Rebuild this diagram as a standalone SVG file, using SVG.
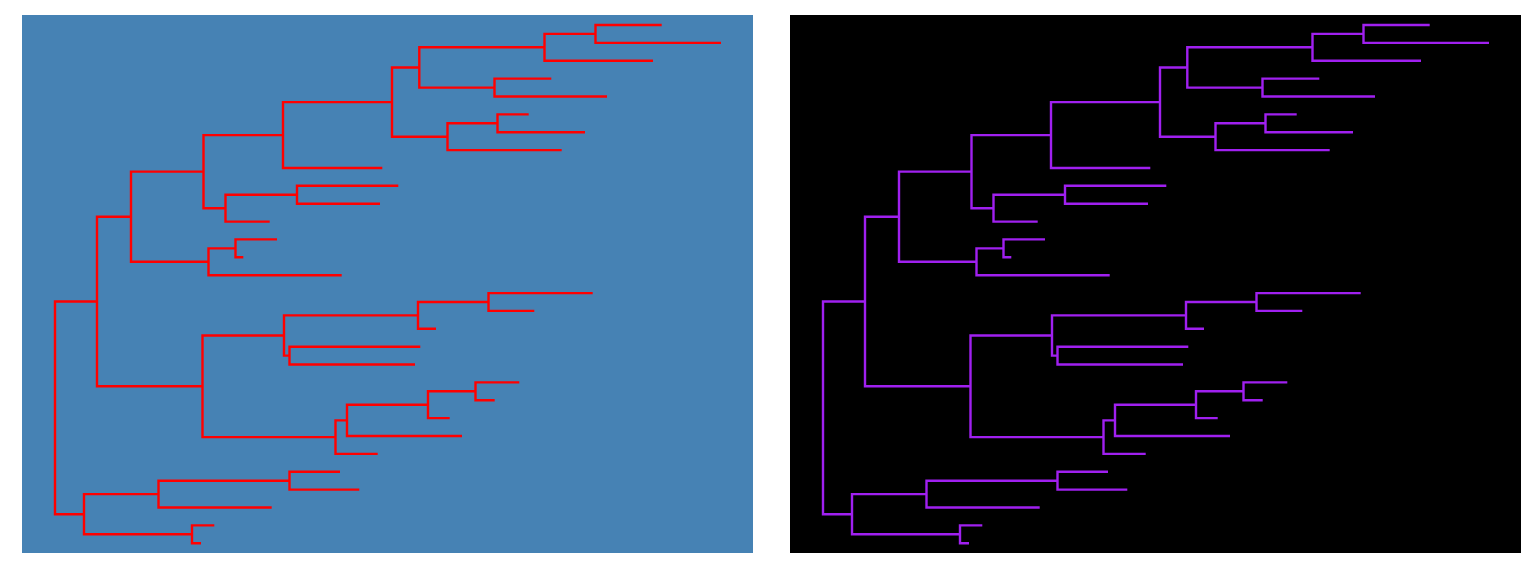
<svg xmlns="http://www.w3.org/2000/svg" xmlns:xlink="http://www.w3.org/1999/xlink" width="1536" height="576" viewBox="0 0 1536 576">
<style>
.tree{fill:none;stroke-width:2.4;stroke-linejoin:miter;stroke-linecap:butt}
.left{stroke:#FF0000}
.right{stroke:#A020F0}
</style>
<defs>
<g id="treeShape" fill="none" stroke-width="2.4">
<path d="M661.7,25 H595.5 V42.9 H721"/>
<path d="M595.5,33.9 H544.5 V60.7 H653"/>
<path d="M551.3,78.6 H494.5 V96.5 H607"/>
<path d="M544.5,47.3 H419.3 V87.6 H494.5"/>
<path d="M528.7,114.4 H497.5 V132.2 H585"/>
<path d="M497.5,123.3 H447.5 V150.1 H561.7"/>
<path d="M419.3,67.5 H392 V136.7 H447.5"/>
<path d="M392,102.1 H283 V168 H382.3"/>
<path d="M398.3,185.8 H297 V203.7 H380"/>
<path d="M297,194.8 H225.5 V221.6 H269.7"/>
<path d="M283,135.1 H203.5 V208.2 H225.5"/>
<path d="M277,239.4 H235.5 V257.3 H243.3"/>
<path d="M235.5,248.4 H208.5 V275.2 H341.7"/>
<path d="M203.5,171.6 H131 V261.8 H208.5"/>
<path d="M592.7,293.1 H488.5 V310.9 H534.3"/>
<path d="M488.5,302 H418 V328.8 H436"/>
<path d="M420.3,346.7 H289.5 V364.5 H415"/>
<path d="M418,315.4 H284 V355.6 H289.5"/>
<path d="M519.3,382.4 H475.5 V400.3 H494.7"/>
<path d="M475.5,391.3 H428 V418.1 H449.7"/>
<path d="M428,404.7 H347 V436 H462"/>
<path d="M347,420.4 H335.5 V453.9 H377.7"/>
<path d="M284,335.5 H202.5 V437.1 H335.5"/>
<path d="M131,216.7 H97 V386.3 H202.5"/>
<path d="M340,471.8 H289.5 V489.6 H359.3"/>
<path d="M289.5,480.7 H158.5 V507.5 H271.7"/>
<path d="M214.3,525.4 H192 V543.2 H201"/>
<path d="M158.5,494.1 H84 V534.3 H192"/>
<path d="M97,301.5 H55 V514.2 H84"/>
<path d="M54.2,407.9 H55"/>
</g>
</defs>
<rect width="1536" height="576" fill="#FFFFFF"/>
<g id="panel-left">
<rect x="22" y="15" width="731" height="538" fill="#4682B4"/>
<g id="connectors-left" class="tree left" stroke="#FF0000"><use xlink:href="#treeShape"/></g>
</g>
<g id="panel-right">
<rect x="790" y="15" width="731" height="538" fill="#000000"/>
<g id="connectors-right" class="tree right" stroke="#A020F0" transform="translate(768,0)"><use xlink:href="#treeShape"/></g>
</g>
</svg>
